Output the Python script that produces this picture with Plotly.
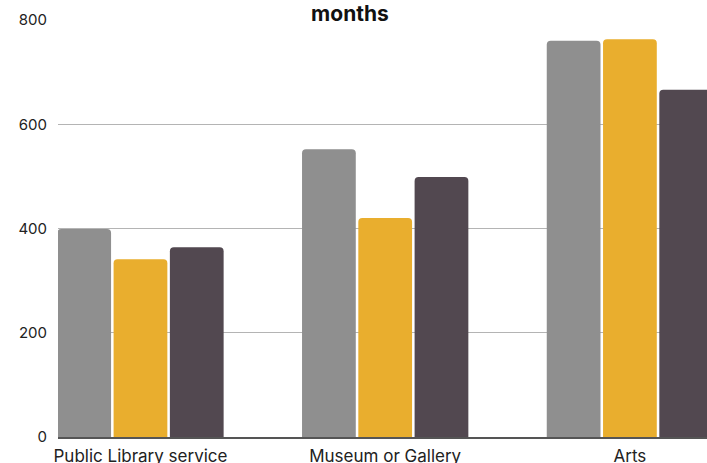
import plotly.graph_objects as go

categories = ["Public Library service", "Museum or Gallery", "Arts"]
series_a = [399, 552, 760]
series_b = [341, 420, 763]
series_c = [364, 499, 666]
colors = ["#8f8f8f", "#e9ae2e", "#524850"]
y_ticks = [0, 200, 400, 600, 800]

fig = go.Figure()
for name, vals, col in zip(["A", "B", "C"], [series_a, series_b, series_c], colors):
    fig.add_trace(go.Bar(x=categories, y=vals, name=name, marker_color=col,
                         marker_line_width=0))

fig.update_layout(
    width=707, height=463,
    margin=dict(l=58, r=0, t=20, b=26),
    paper_bgcolor="white", plot_bgcolor="white",
    barmode="group", bargap=0.31, bargroupgap=0.045,
    barcornerradius=4,
    showlegend=False,
    font=dict(family="Inter", size=15, color="#222222"),
    title=dict(text="<b>months</b>", x=0.495, xanchor="center", y=0.97, yanchor="middle",
               font=dict(family="Inter", size=21, color="#111111")),
)
fig.update_yaxes(range=[0, 800], tickvals=y_ticks, showgrid=True, gridcolor="#b4b4b4",
                 gridwidth=1, zeroline=False, showline=False, ticks="", automargin=False,
                 ticklabelstandoff=10, tickfont=dict(size=15))
fig.update_xaxes(range=[-0.337, 2.315], showline=True, linecolor="#555555", linewidth=2,
                 ticks="", ticklabelstandoff=3, automargin=False, tickfont=dict(size=17))

fig.write_html("out.html")
